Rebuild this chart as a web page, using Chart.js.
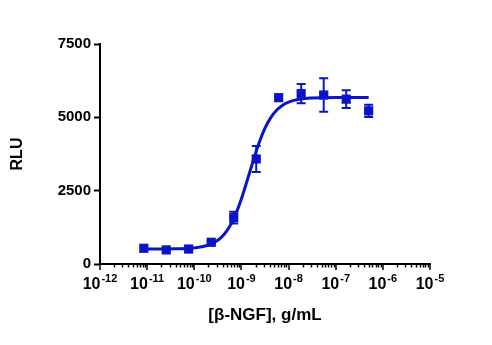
<!DOCTYPE html>
<html>
<head>
<meta charset="utf-8">
<script src="https://cdn.jsdelivr.net/npm/chart.js@4"></script>
<style>
  html, body { margin: 0; padding: 0; background: #fff; }
  #wrap { width: 492px; height: 345px; }
</style>
</head>
<body>
<div id="wrap"><canvas id="doseChart" width="492" height="345"></canvas></div>
<script>
// measured concentrations (g/mL), mean RLU and SD
const conc = [8.5e-12, 2.54e-11, 7.6e-11, 2.29e-10, 6.86e-10, 2.06e-9, 6.17e-9, 1.85e-8, 5.56e-8, 1.67e-7, 5.0e-7];
const rlu = [535, 480, 510, 740, 1580, 3580, 5670, 5810, 5760, 5620, 5220];
const sd = [0, 0, 0, 40, 200, 440, 0, 330, 570, 300, 210];

// fitted curve, read along its length
const fitConc = [8.5e-12, 1.78e-11, 3.16e-11, 5.62e-11, 1.0e-10, 1.78e-10, 3.16e-10, 4.22e-10, 5.62e-10, 7.5e-10, 1.0e-9, 1.33e-9, 1.78e-9, 2.37e-9, 3.16e-9, 4.22e-9, 5.62e-9, 7.5e-9, 1.0e-8, 1.78e-8, 3.16e-8, 1.0e-7, 5.0e-7];
const fitRlu = [510, 512, 515, 524, 550, 622, 813, 999, 1281, 1684, 2222, 2855, 3519, 4132, 4631, 4999, 5251, 5416, 5519, 5622, 5659, 5678, 5680];

const xTickExponents = [-12, -11, -10, -9, -8, -7, -6, -5];
const yTicks = [0, 2500, 5000, 7500];

const blue = "rgb(10,20,200)";
const fontFamily = "Arial, 'Liberation Sans', sans-serif";

const errorBars = {
  id: "errorBars",
  afterDatasetsDraw(chart) {
    const { ctx } = chart;
    const xs = chart.scales.x;
    const ys = chart.scales.y;
    ctx.save();
    ctx.strokeStyle = blue;
    ctx.lineWidth = 2;
    conc.forEach((c, i) => {
      if (!sd[i]) return;
      const px = xs.getPixelForValue(c);
      const top = ys.getPixelForValue(rlu[i] + sd[i]);
      const bot = ys.getPixelForValue(rlu[i] - sd[i]);
      ctx.beginPath();
      ctx.moveTo(px, top);
      ctx.lineTo(px, bot);
      ctx.moveTo(px - 4.5, top);
      ctx.lineTo(px + 4.5, top);
      ctx.moveTo(px - 4.5, bot);
      ctx.lineTo(px + 4.5, bot);
      ctx.stroke();
    });
    ctx.restore();
  },
};

// log axis ticks (major + minor) and 10^n labels
const logAxis = {
  id: "logAxis",
  afterDraw(chart) {
    const { ctx } = chart;
    const xs = chart.scales.x;
    const y0 = chart.chartArea.bottom;
    ctx.save();
    ctx.strokeStyle = "#000";
    ctx.lineWidth = 1.5;
    xTickExponents.forEach((e, k) => {
      const px = Math.round(xs.getPixelForValue(Math.pow(10, e)));
      ctx.beginPath();
      ctx.moveTo(px, y0);
      ctx.lineTo(px, y0 + 6);
      ctx.stroke();
      if (k < xTickExponents.length - 1) {
        for (let m = 2; m <= 9; m++) {
          const mx = Math.round(xs.getPixelForValue(m * Math.pow(10, e))) + 0.5;
          ctx.beginPath();
          ctx.moveTo(mx, y0);
          ctx.lineTo(mx, y0 + 3.5);
          ctx.stroke();
        }
      }
    });
    ctx.fillStyle = "#000";
    ctx.textBaseline = "alphabetic";
    ctx.textAlign = "left";
    const baseFont = "bold 16px " + fontFamily;
    const expFont = "bold 11px " + fontFamily;
    xTickExponents.forEach((e) => {
      const px = xs.getPixelForValue(Math.pow(10, e));
      const exp = String(e);
      ctx.font = baseFont;
      const w1 = ctx.measureText("10").width;
      ctx.font = expFont;
      const w2 = ctx.measureText(exp).width;
      const x0 = px - (w1 + w2 + 1) / 2;
      ctx.font = baseFont;
      ctx.fillText("10", x0, y0 + 25);
      ctx.font = expFont;
      ctx.fillText(exp, x0 + w1 + 1, y0 + 18);
    });
    ctx.restore();
  },
};

new Chart(document.getElementById("doseChart"), {
  type: "scatter",
  data: {
    datasets: [
      {
        type: "line",
        data: fitConc.map((c, i) => ({ x: c, y: fitRlu[i] })),
        borderColor: blue,
        borderWidth: 3,
        pointRadius: 0,
        cubicInterpolationMode: "monotone",
        fill: false,
      },
      {
        data: conc.map((c, i) => ({ x: c, y: rlu[i] })),
        pointStyle: "rect",
        pointRadius: 6.5,
        backgroundColor: blue,
        borderColor: blue,
        borderWidth: 0,
      },
    ],
  },
  options: {
    responsive: false,
    animation: false,
    layout: { padding: { left: 0, top: 44, right: 62, bottom: 0 } },
    plugins: {
      legend: { display: false },
      tooltip: { enabled: false },
    },
    scales: {
      x: {
        type: "logarithmic",
        min: 1e-12,
        max: 1e-5,
        ticks: { display: false },
        grid: { display: false },
        border: { display: true, color: "#000", width: 2 },
        title: {
          display: true,
          text: "[β-NGF], g/mL",
          color: "#000",
          font: { family: fontFamily, size: 17, weight: "bold" },
          padding: { top: 0, bottom: 19 },
        },
        afterFit(scale) {
          scale.height = 81;
        },
      },
      y: {
        min: 0,
        max: 7500,
        afterBuildTicks(scale) {
          scale.ticks = yTicks.map((v) => ({ value: v }));
        },
        ticks: {
          color: "#000",
          padding: 3,
          font: { family: fontFamily, size: 15, weight: "bold" },
          callback: (v) => String(v),
        },
        grid: {
          drawOnChartArea: false,
          drawTicks: true,
          tickLength: 6,
          tickWidth: 2,
          tickColor: "#000",
        },
        border: { display: true, color: "#000", width: 2 },
        title: {
          display: true,
          text: "RLU",
          color: "#000",
          font: { family: fontFamily, size: 16, weight: "bold" },
          padding: { top: 8, bottom: 0 },
        },
        afterFit(scale) {
          scale.width = 100;
        },
      },
    },
  },
  plugins: [errorBars, logAxis],
});
</script>
</body>
</html>
